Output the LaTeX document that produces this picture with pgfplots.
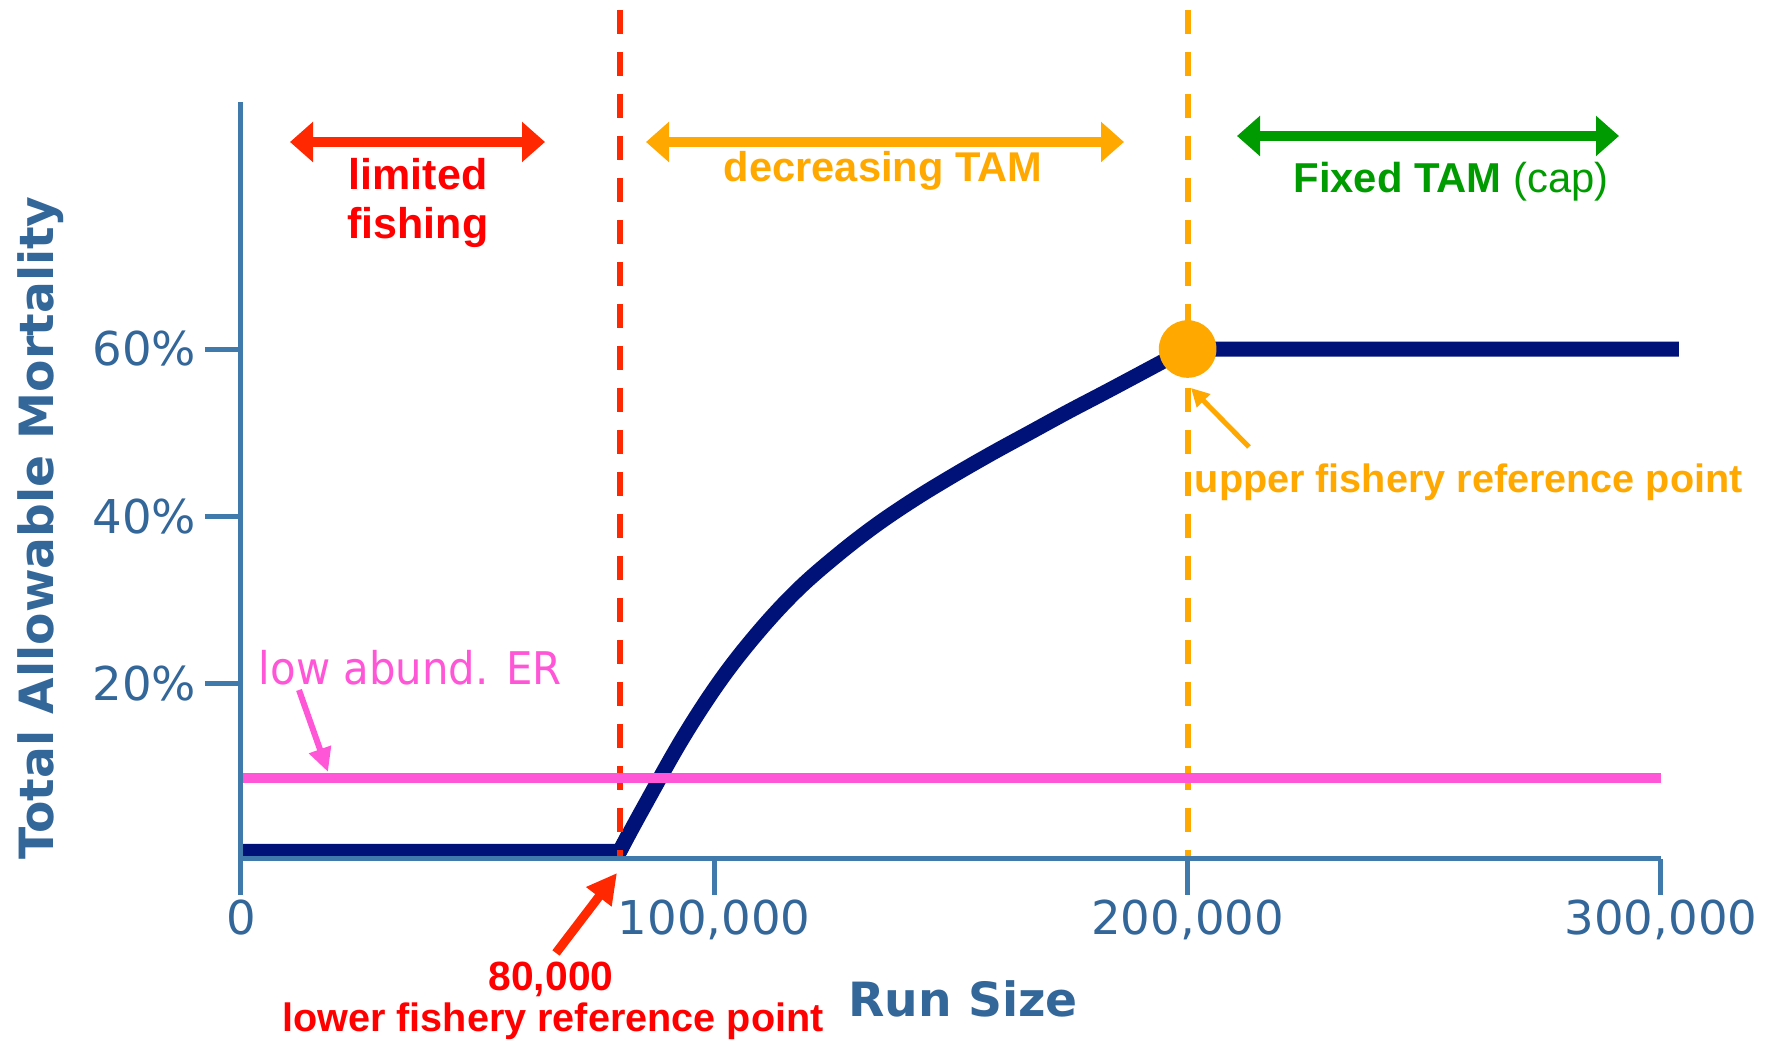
\documentclass[border=0pt]{standalone}
\usepackage{fontspec}
\setmainfont{Liberation Sans}
\newfontfamily\dejavu{DejaVu Sans}
\newfontfamily\dejavunarrow[FakeStretch=0.93]{DejaVu Sans}
\usepackage{pgfplots}
\pgfplotsset{compat=1.18}
\usetikzlibrary{arrows.meta}

\definecolor{axisblue}{RGB}{64,122,172}
\definecolor{labelblue}{RGB}{51,102,153}
\definecolor{navy}{RGB}{0,18,120}
\definecolor{erpink}{RGB}{255,85,215}
\definecolor{refred}{RGB}{255,40,0}
\definecolor{textred}{RGB}{255,0,0}
\definecolor{taorange}{RGB}{255,168,0}
\definecolor{capgreen}{RGB}{0,155,0}

\tikzset{ann/.style={inner sep=0pt, anchor=base}}

\begin{document}
\begin{tikzpicture}[x=0.25pt,y=-0.25pt]
% 1 unit = 1 pixel of the reference, origin top left
\useasboundingbox (0,0) rectangle (1771,1045);

\begin{axis}[
    at={(60.25pt,-214.75pt)}, anchor=south west,
    scale only axis, width=355pt, height=189.25pt,
    xmin=0, xmax=300000, ymin=-0.9, ymax=89.5,
    axis x line*=bottom, axis y line*=left,
    axis line style={axisblue, line width=1.25pt},
    axis on top,
    clip=false,
    xtick={0,100000,200000,300000},
    xticklabels={0,{100,000},{200,000},{300,000}},
    ytick={20,40,60},
    yticklabels={20\%,40\%,60\%},
    scaled x ticks=false,
    tick align=outside,
    major tick length=9pt,
    tick style={axisblue, line width=1.25pt},
    ticklabel style={labelblue, font=\dejavu\fontsize{11.65pt}{14pt}\selectfont},
    xticklabel style={inner sep=1pt},
    yticklabel style={inner sep=2pt},
]
% upper reference point marker
\addplot[taorange, only marks, mark=*, mark size=7pt, mark options={fill=taorange, draw=taorange}]
    coordinates {(200000,60)};
% upper fishery reference point
\addplot[taorange, line width=1.5pt, dash pattern=on 6pt off 4.5pt]
    coordinates {(200000,100.5) (200000,-0.9)};
% total allowable mortality
\addplot[navy, line width=3.75pt] coordinates {(0,0) (80000,0) (82000,2.2)};
\addplot[navy, line width=3.75pt, smooth, tension=0.6] coordinates {
(80000,0) (85100,5.3) (93400,13.6) (101500,20.6) (109600,26.4)
(117700,31.3) (126000,35.4) (134000,38.9) (142100,42.0) (150200,44.8)
(158500,47.5) (166600,50.0) (174700,52.5) (182800,54.9) (191100,57.4)
(197400,59.3) (200000,60)
};
\addplot[navy, line width=3.75pt] coordinates {(198500,59.7) (200000,60) (303800,60)};
% lower fishery reference point
\addplot[refred, line width=1.5pt, dash pattern=on 6pt off 4.5pt]
    coordinates {(80000,100.5) (80000,-0.9)};
% low abundance exploitation rate
\addplot[erpink, line width=2.5pt] coordinates {(0,8.8) (300000,8.8)};
\end{axis}

% zone arrows
\draw[refred, line width=2.5pt, {Triangle[length=5.75pt,width=9.75pt]}-{Triangle[length=5.75pt,width=9.75pt]}]
    (290,142) -- (545,142);
\draw[taorange, line width=2.5pt, {Triangle[length=5.75pt,width=9.75pt]}-{Triangle[length=5.75pt,width=9.75pt]}]
    (646,142) -- (1124,142);
\draw[capgreen, line width=2.5pt, {Triangle[length=5.75pt,width=9.75pt]}-{Triangle[length=5.75pt,width=9.75pt]}]
    (1237,136) -- (1619,136);

\node[ann, textred, font=\bfseries\fontsize{10.75pt}{12pt}\selectfont] at (418,190) {limited};
\node[ann, textred, font=\bfseries\fontsize{10.75pt}{12pt}\selectfont] at (418,239) {fishing};
\node[ann, taorange, font=\bfseries\fontsize{10.4pt}{12pt}\selectfont] at (883,182) {decreasing TAM};
\node[ann, capgreen, font=\fontsize{10.45pt}{12pt}\selectfont] at (1451,193) {\textbf{Fixed TAM} (cap)};

% pointer arrows
\draw[erpink, line width=1.5pt, -{Triangle[length=6pt,width=5.5pt]}] (299,690) -- (328,772);
\draw[taorange, line width=1.25pt, -{Triangle[length=4.5pt,width=4.5pt]}] (1249,447) -- (1191,388);
\draw[refred, line width=2.25pt, -{Triangle[length=7.5pt,width=7.5pt]}] (556,953) -- (617,873);

\node[ann, anchor=base west, taorange, font=\bfseries\fontsize{9.9pt}{12pt}\selectfont] at (1194,493) {upper fishery reference point};
\node[ann, textred, font=\bfseries\fontsize{10.2pt}{12pt}\selectfont] at (551,991) {80,000};
\node[ann, textred, font=\bfseries\fontsize{9.9pt}{12pt}\selectfont] at (553,1032) {lower fishery reference point};
\node[ann, anchor=base west, erpink, font=\dejavunarrow\fontsize{11.25pt}{13pt}\selectfont] at (258,685) {low abund. ER};

% axis titles
\node[ann, labelblue, font=\dejavu\bfseries\fontsize{11.8pt}{14pt}\selectfont] at (963,1017) {Run Size};
\node[ann, rotate=90, labelblue, font=\dejavu\bfseries\fontsize{11.8pt}{14pt}\selectfont] at (53,528) {Total Allowable Mortality};
\end{tikzpicture}
\end{document}
